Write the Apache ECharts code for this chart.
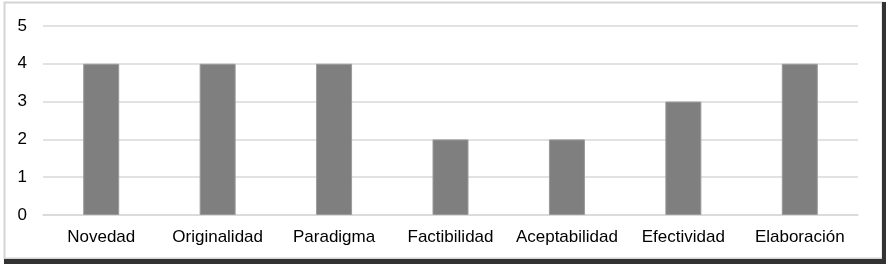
<!DOCTYPE html>
<html><head><meta charset="utf-8">
<script src="https://cdn.jsdelivr.net/npm/echarts@6/dist/echarts.min.js"></script>
<style>html,body{margin:0;padding:0;background:#fff}#c{width:891px;height:267px}</style>
</head><body><div id="c"></div>
<script>
const categories = ["Novedad","Originalidad","Paradigma","Factibilidad","Aceptabilidad","Efectividad","Elaboración"];
const values = [4,4,4,2,2,3,4];
const yTicks = [0,1,2,3,4,5];

const chart = echarts.init(document.getElementById('c'));
chart.setOption({
  animation:false,
  backgroundColor:'#fff',
  grid:{left:43,right:33,top:26,bottom:52},
  xAxis:{type:'category',data:categories,
    axisLine:{lineStyle:{color:'#d9d9d9',width:1.5}},
    axisTick:{show:false},
    axisLabel:{interval:0,hideOverlap:false,color:'#000',fontFamily:'Liberation Sans, Arial',fontSize:17,margin:14}},
  yAxis:{type:'value',min:yTicks[0],max:yTicks[yTicks.length-1],interval:1,
    axisLine:{show:false},axisTick:{show:false},
    splitLine:{lineStyle:{color:'#d9d9d9',width:1.5}},
    axisLabel:{color:'#000',fontFamily:'Liberation Sans, Arial',fontSize:17,margin:16}},
  series:[{type:'bar',data:values,barWidth:36,
    itemStyle:{color:'#7f7f7f',borderColor:'#9a9a9a',borderWidth:1}}],
  graphic:[
    {type:'rect',shape:{x:4.5,y:2.5,width:878,height:256},style:{fill:'none',stroke:'#d4d4d4',lineWidth:2},z:10},
    {type:'rect',shape:{x:882,y:2,width:4,height:262},style:{fill:'#333'},z:11},
    {type:'rect',shape:{x:4,y:259,width:882,height:5},style:{fill:'#333'},z:11}
  ]
});
</script></body></html>
